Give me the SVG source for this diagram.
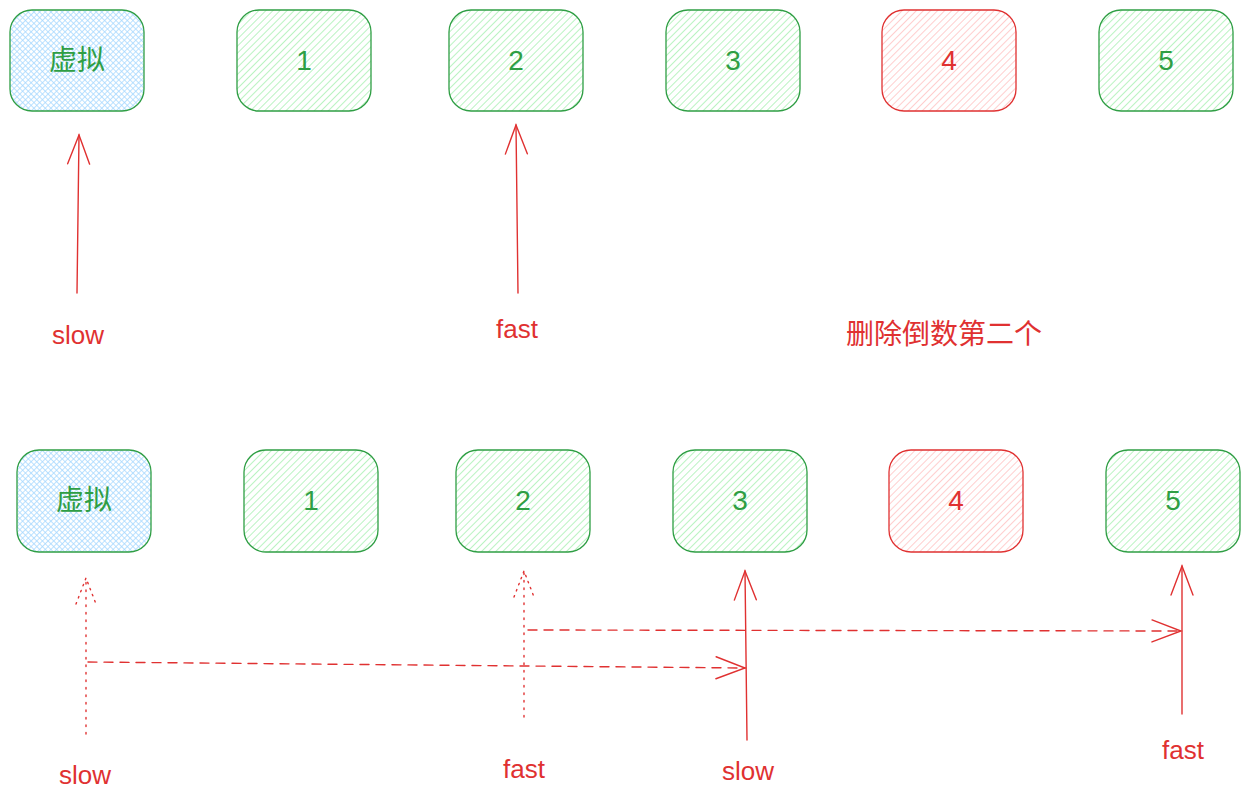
<svg xmlns="http://www.w3.org/2000/svg" width="1249" height="802" viewBox="0 0 1249 802">
<style>
.g rect{stroke:#2f9e44;stroke-width:1.3}
.r rect{stroke:#e03131;stroke-width:1.3}
.gt{fill:#2f9e44}
.rt{fill:#e03131}
text{font-family:"Liberation Sans","Noto Sans CJK SC",sans-serif;text-anchor:middle}
.num{font-size:28px}
.cjk{font-size:28px}
.lbl{font-size:26px;fill:#e03131}
.arr{stroke:#e03131;stroke-width:1.4;fill:none;stroke-linecap:round}
.dot{stroke-dasharray:1.5 6}
.dash{stroke-dasharray:9 7}
</style>
<defs>
<pattern id="hg" width="5" height="5" patternUnits="userSpaceOnUse" patternTransform="rotate(45)">
<rect width="5" height="5" fill="#ffffff"/>
<line x1="0" y1="0" x2="0" y2="5" stroke="#b2f2bb" stroke-width="1.8"/>
</pattern>
<pattern id="hr" width="5" height="5" patternUnits="userSpaceOnUse" patternTransform="rotate(45)">
<rect width="5" height="5" fill="#ffffff"/>
<line x1="0" y1="0" x2="0" y2="5" stroke="#ffc9c9" stroke-width="1.8"/>
</pattern>
<pattern id="hb" width="4" height="4" patternUnits="userSpaceOnUse" patternTransform="rotate(45)">
<rect width="4" height="4" fill="#ffffff"/>
<line x1="0" y1="0" x2="0" y2="4" stroke="#a5d8ff" stroke-width="1.5"/>
<line x1="0" y1="0" x2="4" y2="0" stroke="#a5d8ff" stroke-width="1.5"/>
</pattern>
<marker id="ah" markerUnits="userSpaceOnUse" markerWidth="40" markerHeight="30" refX="30" refY="15" orient="auto" overflow="visible">
<path d="M1,4 L30,15 L1,26" fill="none" stroke="#e03131" stroke-width="1.4" stroke-linecap="round"/>
</marker>
<marker id="ahd" markerUnits="userSpaceOnUse" markerWidth="40" markerHeight="30" refX="30" refY="15" orient="auto" overflow="visible">
<path d="M4,5 L30,15 L4,25" fill="none" stroke="#e03131" stroke-width="1.4" stroke-linecap="round" stroke-dasharray="1.5 5"/>
</marker>
</defs>
<rect width="1249" height="802" fill="#ffffff"/>

<g id="top-dummy" class="g"><rect x="10" y="10" width="134" height="101" rx="22" fill="url(#hb)"/><text x="77" y="70" class="cjk gt">虚拟</text></g>
<g id="top-1" class="g"><rect x="237" y="10" width="134" height="101" rx="22" fill="url(#hg)"/><text x="304" y="70" class="num gt">1</text></g>
<g id="top-2" class="g"><rect x="449" y="10" width="134" height="101" rx="22" fill="url(#hg)"/><text x="516" y="70" class="num gt">2</text></g>
<g id="top-3" class="g"><rect x="666" y="10" width="134" height="101" rx="22" fill="url(#hg)"/><text x="733" y="70" class="num gt">3</text></g>
<g id="top-4" class="r"><rect x="882" y="10" width="134" height="101" rx="22" fill="url(#hr)"/><text x="949" y="70" class="num rt">4</text></g>
<g id="top-5" class="g"><rect x="1099" y="10" width="134" height="101" rx="22" fill="url(#hg)"/><text x="1166" y="70" class="num gt">5</text></g>

<g id="bot-dummy" class="g"><rect x="17" y="450" width="134" height="102" rx="22" fill="url(#hb)"/><text x="84" y="510" class="cjk gt">虚拟</text></g>
<g id="bot-1" class="g"><rect x="244" y="450" width="134" height="102" rx="22" fill="url(#hg)"/><text x="311" y="510" class="num gt">1</text></g>
<g id="bot-2" class="g"><rect x="456" y="450" width="134" height="102" rx="22" fill="url(#hg)"/><text x="523" y="510" class="num gt">2</text></g>
<g id="bot-3" class="g"><rect x="673" y="450" width="134" height="102" rx="22" fill="url(#hg)"/><text x="740" y="510" class="num gt">3</text></g>
<g id="bot-4" class="r"><rect x="889" y="450" width="134" height="102" rx="22" fill="url(#hr)"/><text x="956" y="510" class="num rt">4</text></g>
<g id="bot-5" class="g"><rect x="1106" y="450" width="134" height="102" rx="22" fill="url(#hg)"/><text x="1173" y="510" class="num gt">5</text></g>

<g id="connectors">
<path class="arr" d="M77,293 L79,135" marker-end="url(#ah)"/>
<path class="arr" d="M518,293 L516,125" marker-end="url(#ah)"/>
<path class="arr dot" d="M86,734 L86,578" marker-end="url(#ahd)"/>
<path class="arr dot" d="M524,717 L524,571" marker-end="url(#ahd)"/>
<path class="arr dash" d="M88,662 L745,668" marker-end="url(#ah)"/>
<path class="arr dash" d="M528,630 L1181,631" marker-end="url(#ah)"/>
<path class="arr" d="M747,740 L745,571" marker-end="url(#ah)"/>
<path class="arr" d="M1182,714 L1182,566" marker-end="url(#ah)"/>
</g>

<g id="labels">
<text x="78" y="344" class="lbl">slow</text>
<text x="517" y="338" class="lbl">fast</text>
<text x="944" y="344" class="lbl" style="font-size:28px">删除倒数第二个</text>
<text x="85" y="784" class="lbl">slow</text>
<text x="524" y="778" class="lbl">fast</text>
<text x="748" y="780" class="lbl">slow</text>
<text x="1183" y="759" class="lbl">fast</text>
</g>
</svg>
